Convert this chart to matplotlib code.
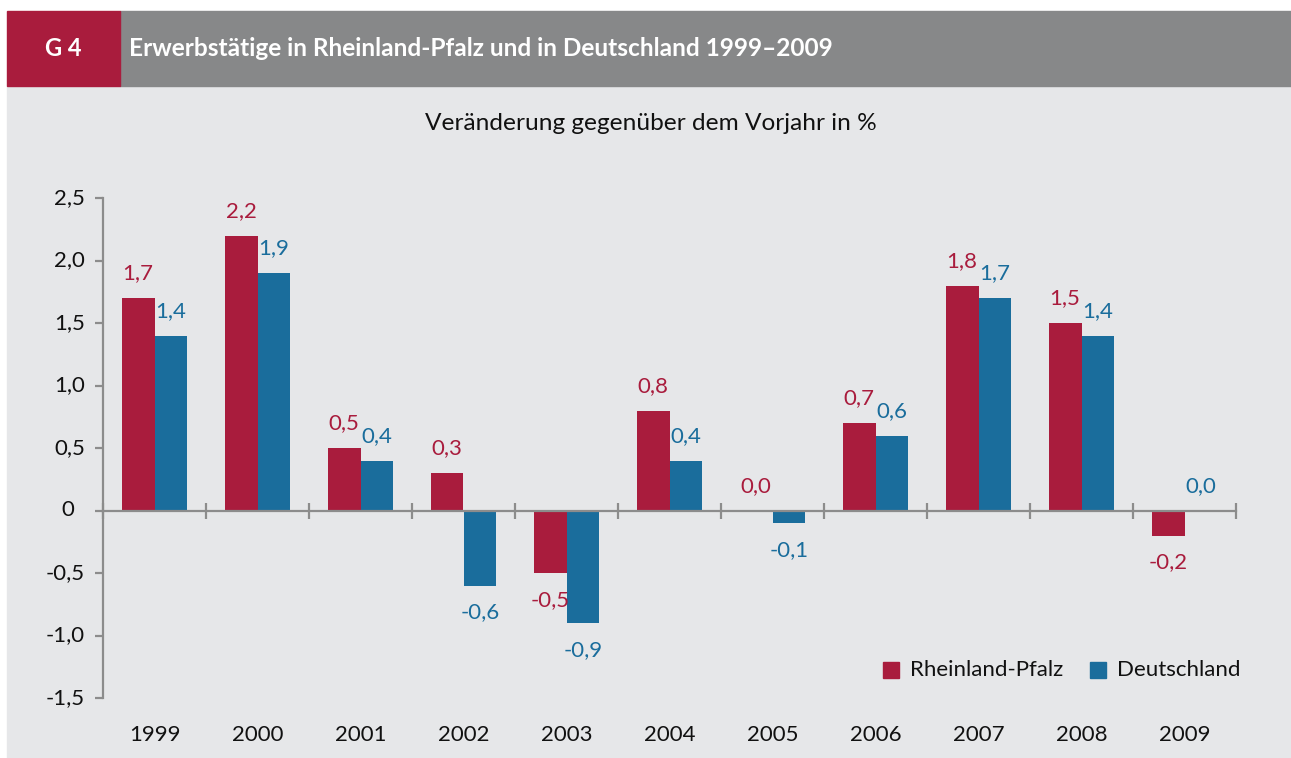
import matplotlib
matplotlib.use("Agg")
import matplotlib.pyplot as plt
from matplotlib.patches import Rectangle
from matplotlib.transforms import blended_transform_factory
import numpy as np

# ---- data ----
years = ["1999", "2000", "2001", "2002", "2003", "2004", "2005", "2006", "2007", "2008", "2009"]
rheinland_pfalz = [1.7, 2.2, 0.5, 0.3, -0.5, 0.8, 0.0, 0.7, 1.8, 1.5, -0.2]
deutschland = [1.4, 1.9, 0.4, -0.6, -0.9, 0.4, -0.1, 0.6, 1.7, 1.4, 0.0]
y_ticks = [-1.5, -1.0, -0.5, 0, 0.5, 1.0, 1.5, 2.0, 2.5]
series_names = ["Rheinland-Pfalz", "Deutschland"]
title = "Erwerbstätige in Rheinland-Pfalz und in Deutschland 1999–2009"
subtitle = "Veränderung gegenüber dem Vorjahr in %"
graph_id = "G 4"

RED = "#A91C3D"
BLUE = "#1A6D9C"
HEADER_GRAY = "#878889"
PANEL = "#E6E7E9"
AXIS_GRAY = "#8C8C8C"
TEXT = "#111111"

plt.rcParams['font.family'] = ['Lato', 'DejaVu Sans']

W, H = 1291, 758
fig = plt.figure(figsize=(W / 100, H / 100), dpi=100)
fig.patch.set_facecolor("white")


def fx(px):
    return px / W


def fy(py):
    return 1 - py / H


# background panels
fig.patches.append(Rectangle((fx(7), fy(758)), fx(W) - fx(7), fy(86) - fy(758),
                             transform=fig.transFigure, color=PANEL, zorder=-10))
fig.patches.append(Rectangle((fx(120), fy(86)), fx(W) - fx(120), fy(11) - fy(86),
                             transform=fig.transFigure, color=HEADER_GRAY, zorder=-9))
fig.patches.append(Rectangle((fx(7), fy(86)), fx(120) - fx(7), fy(11) - fy(86),
                             transform=fig.transFigure, color=RED, zorder=-9))

fig.text(fx(63), fy(48), graph_id, color="white", fontsize=17, fontweight="bold",
         ha="center", va="center")
fig.text(fx(129), fy(48), title, color="white", fontsize=17.6, fontweight="bold",
         ha="left", va="center")
fig.text(fx(651), fy(124), subtitle, color=TEXT, fontsize=17.6, ha="center", va="center")

# axes
left, right, top, bottom = 103, 1236, 198, 698
ax = fig.add_axes([fx(left), fy(bottom), fx(right) - fx(left), fy(top) - fy(bottom)])
ax.set_facecolor("none")

x = np.arange(len(years))
bw = 0.32
ax.bar(x - bw / 2, rheinland_pfalz, bw, color=RED, zorder=2)
ax.bar(x + bw / 2, deutschland, bw, color=BLUE, zorder=2)

ax.set_xlim(-0.5, len(years) - 0.5)
ax.set_ylim(-1.5, 2.5)

for s in ["top", "right"]:
    ax.spines[s].set_visible(False)
ax.spines["bottom"].set_position(("data", 0))
for s in ["left", "bottom"]:
    ax.spines[s].set_color(AXIS_GRAY)
    ax.spines[s].set_linewidth(1.6)
    ax.spines[s].set_zorder(3)

ax.set_yticks(y_ticks)
ax.set_yticklabels([])
ax.tick_params(axis="y", direction="out", length=6, width=1.6, color=AXIS_GRAY)

ax.set_xticks(np.arange(-0.5, len(years), 1.0))
ax.set_xticklabels([])
ax.tick_params(axis="x", direction="inout", length=12, width=1.6, color=AXIS_GRAY)

FS = 16
# y labels (decimal aligned)
ytr = blended_transform_factory(fig.transFigure, ax.transData)
for v in y_ticks:
    if v == 0:
        ax.text(fx(68), v, "0", transform=ytr, ha="center", va="center",
                fontsize=FS, color=TEXT)
    else:
        ax.text(fx(85), v, f"{v:.1f}".replace(".", ","), transform=ytr, ha="right",
                va="center", fontsize=FS, color=TEXT)

# x labels
xtr = blended_transform_factory(ax.transData, fig.transFigure)
for i, yr in enumerate(years):
    ax.text(i, fy(735), yr, transform=xtr, ha="center", va="center", fontsize=FS, color=TEXT)


def fmt(v):
    return f"{v:.1f}".replace(".", ",")


for vals, off, col in [(rheinland_pfalz, -bw / 2, RED), (deutschland, bw / 2, BLUE)]:
    for i, v in enumerate(vals):
        if v >= 0:
            ax.annotate(fmt(v), (i + off, v), xytext=(0, 13.5), textcoords="offset points",
                        ha="center", va="baseline", fontsize=FS, color=col)
        else:
            ax.annotate(fmt(v), (i + off, v), xytext=(0, -12), textcoords="offset points",
                        ha="center", va="top", fontsize=FS, color=col)

# legend
for px0, name, col in [(883, series_names[0], RED), (1090, series_names[1], BLUE)]:
    fig.patches.append(Rectangle((fx(px0), fy(678)), fx(16), 16 / H,
                                 transform=fig.transFigure, color=col))
    fig.text(fx(px0 + 27), fy(670), name, fontsize=FS, color=TEXT, ha="left", va="center")

fig.savefig("out.png", dpi=100, facecolor=fig.get_facecolor())
